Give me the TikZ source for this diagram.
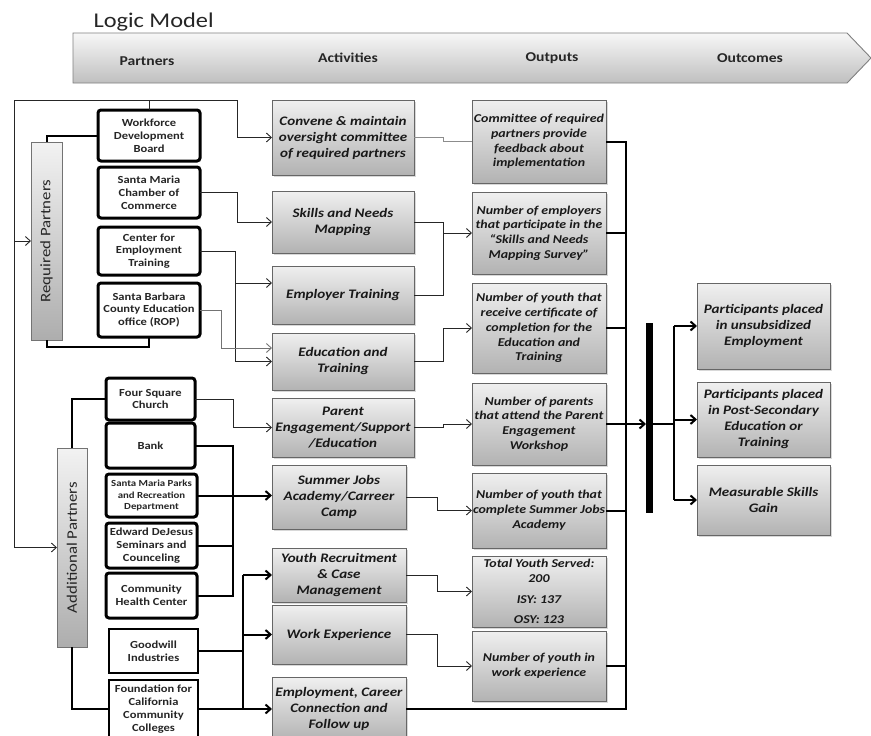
\documentclass[tikz,border=0pt]{standalone}
\usepackage{fontspec}
\setmainfont[FakeStretch=1.16]{Carlito}
\usetikzlibrary{arrows.meta,shadows,calc}
\tikzset{
  partbox/.style={draw=black, line width=3pt, rounded corners=3pt, fill=white, align=center,
    inner sep=1pt, outer sep=0pt, anchor=north west, text=black!85,
    font=\fontsize{10.8}{12.8}\selectfont\bfseries},
  gbox/.style={draw=black!60, line width=0.9pt, top color=black!6, bottom color=black!30,
    align=center, inner sep=1pt, outer sep=0pt, anchor=north west, text=black!90,
    drop shadow={shadow xshift=1.5pt, shadow yshift=-1.5pt, opacity=0.3}},
  actbox/.style={gbox, font=\fontsize{13}{16}\selectfont\bfseries\itshape},
  outbox/.style={gbox, font=\fontsize{12}{14.8}\selectfont\bfseries\itshape},
  ocbox/.style={gbox, font=\fontsize{13}{16}\selectfont\bfseries\itshape},
  barbox/.style={draw=black!55, line width=0.8pt, top color=black!5, bottom color=black!32,
    rotate=90, inner sep=0pt, outer sep=0pt, text=black!85,
    font=\fontsize{14.5}{16}\selectfont},
  hdr/.style={font=\fontsize{13.5}{15}\selectfont\bfseries, text=black!85},
  tl/.style={line width=0.9pt, black!85},
  ta/.style={tl, -{Straight Barb[length=5pt,width=9pt]}},
  tk/.style={line width=2pt, black},
  tka/.style={tk, -{Straight Barb[length=5pt,width=9pt]}},
}
\begin{document}
\begin{tikzpicture}[x=1pt,y=-1pt]
\useasboundingbox (0,0) rectangle (871,736);
\clip (0,0) rectangle (871,736);
\fill[white] (0,0) rectangle (871,736);

% title and banner
\node[anchor=west, font=\fontsize{21}{24}\selectfont, text=black!85] (title) at (90,22) {Logic Model};
\shade[top color=black!3, bottom color=black!25, draw=black!50, line width=0.9pt]
  (73,33) -- (847,33) -- (871,58) -- (847,83) -- (73,83) -- cycle;
\node[hdr] (hpart) at (147,61) {Partners};
\node[hdr] (hact) at (348,58) {Activities};
\node[hdr] (hout) at (552,58) {Outputs};
\node[hdr] (hoc) at (750,58) {Outcomes};

% side bars
\node[barbox, minimum width=198pt, minimum height=31pt] (rp) at (46.5,241) {Required Partners};
\node[barbox, minimum width=199pt, minimum height=30pt] (ap) at (72,547.5) {Additional Partners};

% required partners
\node[partbox, minimum width=102pt, minimum height=51pt] (wdb) at (98,110) {Workforce\\Development\\Board};
\node[partbox, minimum width=102pt, minimum height=51pt] (smcc) at (98,167) {Santa Maria\\Chamber of\\Commerce};
\node[partbox, minimum width=102pt, minimum height=48pt] (cet) at (98,227) {Center for\\Employment\\Training};
\node[partbox, minimum width=102pt, minimum height=54pt] (rop) at (98,283) {Santa Barbara\\County Education\\office (ROP)};

% additional partners
\node[partbox, minimum width=89pt, minimum height=42pt] (fsc) at (106,378) {Four Square\\Church};
\node[partbox, minimum width=89pt, minimum height=45pt] (bank) at (106,423) {Bank};
\node[partbox, minimum width=91pt, minimum height=43pt, font=\fontsize{9.3}{11.8}\selectfont\bfseries] (parks) at (106,474) {Santa Maria Parks\\and Recreation\\Department};
\node[partbox, minimum width=91pt, minimum height=45pt, font=\fontsize{10.8}{12.8}\selectfont\bfseries] (edward) at (106,523) {Edward DeJesus\\Seminars and\\Counceling};
\node[partbox, minimum width=91pt, minimum height=45pt] (chc) at (106,573) {Community\\Health Center};
\node[partbox, line width=2.2pt, rounded corners=0pt, minimum width=89pt, minimum height=44pt] (goodwill) at (109,629) {Goodwill\\Industries};
\node[partbox, line width=2.2pt, rounded corners=0pt, minimum width=89pt, minimum height=58pt] (found) at (109,680) {Foundation for\\California\\Community\\Colleges};

% activities
\node[actbox, minimum width=142pt, minimum height=75pt] (convene) at (272,100) {Convene \& maintain\\oversight committee\\of required partners};
\node[actbox, minimum width=142pt, minimum height=62pt] (skills) at (272,191) {Skills and Needs\\Mapping};
\node[actbox, minimum width=142pt, minimum height=58pt] (emptrain) at (272,266) {Employer Training};
\node[actbox, minimum width=142pt, minimum height=57pt] (edu) at (272,333) {Education and\\Training};
\node[actbox, minimum width=142pt, minimum height=59pt] (parent) at (272,398) {Parent\\Engagement/Support\\/Education};
\node[actbox, minimum width=134pt, minimum height=64pt] (summer) at (272,465) {Summer Jobs\\Academy/Carreer\\Camp};
\node[actbox, minimum width=134pt, minimum height=54pt] (youth) at (272,548) {Youth Recruitment\\\& Case\\Management};
\node[actbox, minimum width=134pt, minimum height=59pt] (work) at (272,605) {Work Experience};
\node[actbox, minimum width=134pt, minimum height=64pt] (employ) at (272,677) {Employment, Career\\Connection and\\Follow up};

% outputs
\node[outbox, minimum width=134pt, minimum height=83pt] (committee) at (472,100) {Committee of required\\partners provide\\feedback about\\implementation};
\node[outbox, minimum width=134pt, minimum height=82pt] (empl) at (472,192) {Number of employers\\that participate in the\\``Skills and Needs\\Mapping Survey''};
\node[outbox, minimum width=134pt, minimum height=90pt] (cert) at (472,283) {Number of youth that\\receive certificate of\\completion for the\\Education and\\Training};
\node[outbox, minimum width=134pt, minimum height=82pt] (parents) at (472,383) {Number of parents\\that attend the Parent\\Engagement\\Workshop};
\node[outbox, minimum width=134pt, minimum height=75pt] (summout) at (472,473) {Number of youth that\\complete Summer Jobs\\Academy};
\node[outbox, minimum width=134pt, minimum height=71pt] (total) at (472,556) {Total Youth Served:\\200\\[6pt]ISY: 137\\[6pt]OSY: 123};
\node[outbox, minimum width=134pt, minimum height=70pt] (workout) at (472,631) {Number of youth in\\work experience};

% outcomes
\node[ocbox, minimum width=133pt, minimum height=86pt] (o1) at (697,283) {Participants placed\\in unsubsidized\\Employment};
\node[ocbox, minimum width=133pt, minimum height=75pt] (o2) at (697,382) {Participants placed\\in Post-Secondary\\Education or\\Training};
\node[ocbox, minimum width=133pt, minimum height=70pt] (o3) at (697,465) {Measurable Skills\\Gain};

% big bar
\node[fill=black, minimum width=7pt, minimum height=190pt, inner sep=0pt, outer sep=0pt, anchor=north west] (bigbar) at (646,323) {};

% helper columns
\coordinate (loopL) at (14,100);
\coordinate (loopR) at (237,100);
\coordinate (gx) at (243,0);
\coordinate (colx) at (626,0);
\coordinate (ox) at (674,0);

% feedback loop
\draw[tl] (wdb.north) -- (wdb.north |- loopL);
\draw[tl] (loopL) -- (loopR);
\draw[ta] (loopR) |- (convene.west);
\draw[ta] (loopL) |- (rp.north);
\draw[ta] (loopL) |- (ap.north);

% bars to partners
\draw[tk] (wdb.west) -| (rp.east);
\draw[tk] (rp.west) -- ++(0,7) -| (rop.south);
\draw[tk] (fsc.west) -| (ap.east);
\draw[tk] (ap.west) |- (found.west);

% required partners to activities
\draw[ta] (smcc.east) -- ++(37,0) |- (skills.west);
\draw[ta] (cet.east) -- ++(35,0) coordinate (c1) |- ([yshift=12pt]emptrain.west);
\draw[ta] (c1) |- (edu.west);
\draw[ta, black!55] (rop.east) -- ++(21,0) |- ([yshift=13.5pt]edu.west);

% additional partners to activities
\draw[ta] (fsc.east) -- ++(38,0) |- (parent.west);
\draw[tk] (bank.east) -- ++(38,0) coordinate (b1) |- (chc.east);
\draw[tk] (edward.east) -- (edward.east -| b1);
\draw[tka] (parks.east) -- (parks.east -| summer.west);
\draw[tk] (goodwill.east) -- (goodwill.east -| gx);
\draw[tk] (gx |- found.east) -- (gx |- youth.west);
\draw[tka] (gx |- youth.west) -- (youth.west);
\draw[tka] (gx |- work.west) -- (work.west);
\draw[tka] (found.east) -- (employ.west);

% activities to outputs
\draw[tl, black!45] (convene.east) -- ++(29,0) |- (committee.west);
\draw[ta] (skills.east) -- ++(29,0) |- (empl.west);
\draw[tl] (emptrain.east) -| ([xshift=-29pt]empl.west);
\draw[ta] (edu.east) -- ++(29,0) |- (cert.west);
\draw[ta] (parent.east) -- ++(29,0) |- (parents.west);
\draw[ta] (summer.east) -- ++(31,0) |- (summout.west);
\draw[ta] (youth.east) -- ++(31,0) |- (total.west);
\draw[ta] (work.east) -- ++(31,0) |- (workout.west);

% outputs to collector
\draw[tk] (committee.east) -| (colx |- employ.east) -- (employ.east);
\draw[tk] (empl.east) -- (empl.east -| colx);
\draw[tk] (cert.east) -- (cert.east -| colx);
\draw[tk] (parents.east) -- (parents.east -| colx);
\draw[tk] (summout.east) -- (summout.east -| colx);
\draw[tk] (workout.east) -- (workout.east -| colx);
\draw[tka] (parents.east -| colx) -- (parents.east -| bigbar.west);

% bar to outcomes
\draw[tk] (parents.east -| bigbar.east) -- (parents.east -| ox);
\draw[tk] (ox |- o1.west) -- (ox |- o3.west);
\draw[tka] (ox |- o1.west) -- (o1.west);
\draw[tka] (ox |- o2.west) -- (o2.west);
\draw[tka] (ox |- o3.west) -- (o3.west);
\end{tikzpicture}
\end{document}
